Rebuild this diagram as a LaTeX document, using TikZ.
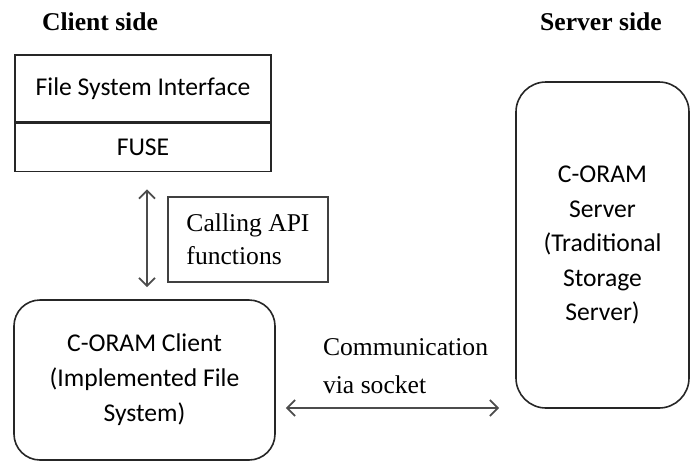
\documentclass[tikz,border=0pt]{standalone}
\usepackage{fontspec}
\setmainfont{Liberation Serif}
\newfontfamily\calib{Carlito}
\usepackage{tikz}
\usetikzlibrary{arrows.meta}

\tikzset{
  layerbox/.style={draw=black!85, line width=0.8pt, minimum width=128pt, font=\calib\fontsize{12.8}{17}\selectfont},
  notebox/.style={draw=black!75, line width=0.9pt, minimum width=80pt, minimum height=42.5pt, align=left, font=\fontsize{12.8}{16.5}\selectfont},
  rbox/.style={draw=black!85, line width=0.8pt, align=center, font=\calib\fontsize{12.8}{17.5}\selectfont},
  side/.style={font=\bfseries\fontsize{12.8}{15}\selectfont},
  link/.style={{Straight Barb[length=4pt,width=8pt]}-{Straight Barb[length=4pt,width=8pt]}, draw=black!70, line width=0.9pt}
}

\begin{document}
\begin{tikzpicture}[x=0.5pt,y=-0.5pt]

\useasboundingbox (0,0) rectangle (691,462);

\node [side] (cside) at (100,22) {Client side};
\node [side] (sside) at (601,22) {Server side};

% client stack
\node [layerbox, minimum height=33.5pt] (fsi) at (143,88.5) {File System Interface};
\node [layerbox, minimum height=24pt, anchor=north] (fuse) at (fsi.south) {FUSE};

\node [notebox] (api) at (248,239.5) {Calling API\\functions};

\node [rbox, rounded corners=13pt, minimum width=130.5pt, minimum height=80pt] (client) at (144.5,380)
  {C-ORAM Client\\(Implemented File\\System)};

% server
\node [rbox, rounded corners=15pt, minimum width=86.5pt, minimum height=163pt, font=\calib\fontsize{12.8}{17.25}\selectfont] (server) at (602.5,245)
  {C-ORAM\\Server\\(Traditional\\Storage\\Server)};

\node [anchor=west, align=left, font=\fontsize{12.8}{19}\selectfont] (comm) at (316,366) {Communication\\via socket};

% arrows
\coordinate (up) at ([shift={(4,17)}]fuse.south);
\coordinate (dn) at ([yshift=6pt]up |- client.north);
\draw [link] (up) -- (dn);

\coordinate (cl) at ([shift={(10,28)}]client.east);
\coordinate (sv) at (cl -| server.west);
\draw [link] (cl) -- ([xshift=-8pt]sv);

\end{tikzpicture}
\end{document}
